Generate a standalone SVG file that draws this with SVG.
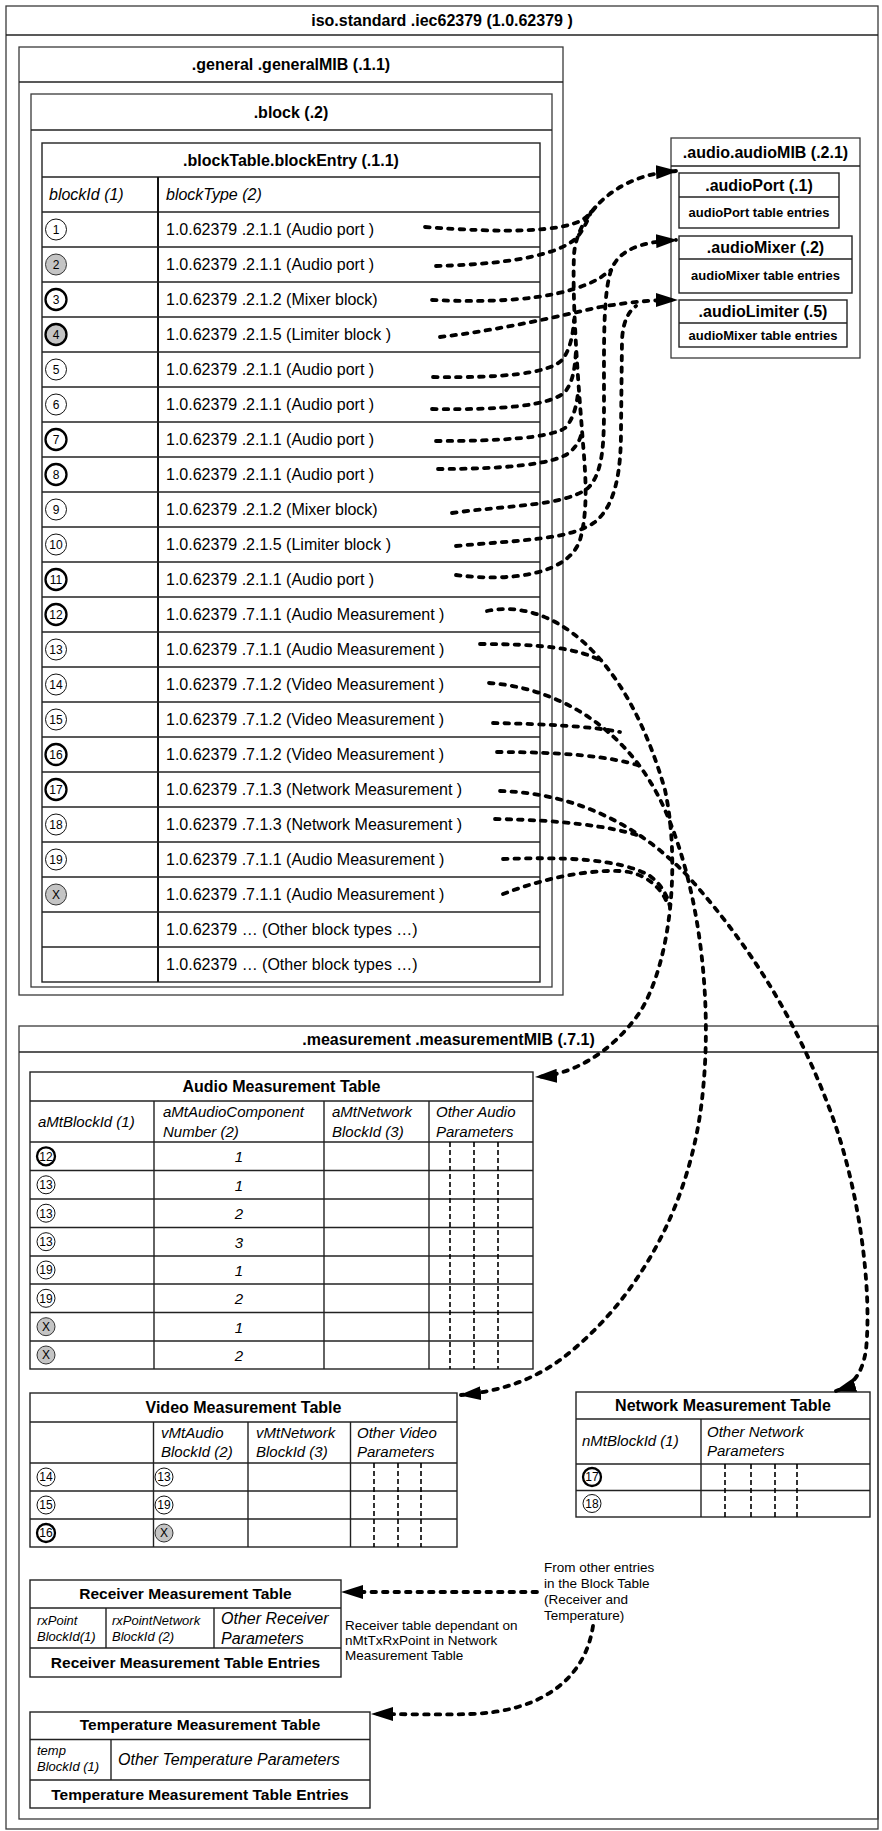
<svg xmlns="http://www.w3.org/2000/svg" width="882" height="1831" viewBox="0 0 882 1831">
<defs>
<style>
.fr{fill:none;stroke:#3a3a3a;stroke-width:1.3}
.tb{fill:#fff;stroke:#222;stroke-width:1.4}
.ln{stroke:#222;stroke-width:1.4;fill:none}
.lnk{stroke:#111;stroke-width:2;fill:none}
.b16{font-family:'Liberation Sans',Arial,sans-serif;font-size:16px;font-weight:bold;fill:#000}
.b15{font-family:'Liberation Sans',Arial,sans-serif;font-size:15.5px;font-weight:bold;fill:#000}
.b13{font-family:'Liberation Sans',Arial,sans-serif;font-size:13px;font-weight:bold;fill:#000}
.r16{font-family:'Liberation Sans',Arial,sans-serif;font-size:16px;fill:#000}
.i16{font-family:'Liberation Sans',Arial,sans-serif;font-size:16px;font-style:italic;fill:#000}
.i15{font-family:'Liberation Sans',Arial,sans-serif;font-size:15px;font-style:italic;fill:#000}
.i13{font-family:'Liberation Sans',Arial,sans-serif;font-size:13px;font-style:italic;fill:#000}
.r13{font-family:'Liberation Sans',Arial,sans-serif;font-size:13.5px;fill:#000}
.n12{font-family:'Liberation Sans',Arial,sans-serif;font-size:12px;fill:#000;text-anchor:middle}
.mid{text-anchor:middle}
.cw{fill:#fff;stroke:#111;stroke-width:1}
.ck{fill:#fff;stroke:#000;stroke-width:2.3}
.cg{fill:#c4c4c4;stroke:#333;stroke-width:1}
.cgk{fill:#c4c4c4;stroke:#000;stroke-width:2.3}
.con{fill:none;stroke:#000;stroke-width:3.8;stroke-dasharray:4.5 7;stroke-linecap:round}
.dv{stroke:#000;stroke-width:1.6;stroke-dasharray:5 3;fill:none}
</style>
<marker id="ah" markerUnits="userSpaceOnUse" markerWidth="24" markerHeight="14" refX="20" refY="7" orient="auto"><path d="M0,0 L22,7 L0,14 z" fill="#000"/></marker>
</defs>

<g id="root-frame">
<rect class="fr" x="6" y="6" width="872" height="1823"/>
<line class="ln" x1="6" y1="35" x2="878" y2="35"/>
<text class="b16 mid" x="442" y="26">iso.standard .iec62379 (1.0.62379 )</text>
</g>

<g id="generalMIB">
<rect class="fr" x="19" y="47" width="544" height="948"/>
<line class="ln" x1="19" y1="82" x2="563" y2="82"/>
<text class="b16 mid" x="291" y="70">.general .generalMIB (.1.1)</text>
</g>

<g id="block">
<rect class="fr" x="31" y="94" width="521" height="893"/>
<line class="ln" x1="31" y1="130" x2="552" y2="130"/>
<text class="b16 mid" x="291" y="118">.block (.2)</text>
</g>

<g id="blockTable">
<rect class="tb" x="42" y="143" width="498" height="839"/>
<line class="ln" x1="42" y1="177" x2="540" y2="177"/>
<line class="ln" x1="42" y1="212" x2="540" y2="212"/>
<line class="lnk" x1="158" y1="177" x2="158" y2="982"/>
<g class="ln">
<line x1="42" y1="247" x2="540" y2="247"/><line x1="42" y1="282" x2="540" y2="282"/><line x1="42" y1="317" x2="540" y2="317"/><line x1="42" y1="352" x2="540" y2="352"/><line x1="42" y1="387" x2="540" y2="387"/><line x1="42" y1="422" x2="540" y2="422"/><line x1="42" y1="457" x2="540" y2="457"/><line x1="42" y1="492" x2="540" y2="492"/><line x1="42" y1="527" x2="540" y2="527"/><line x1="42" y1="562" x2="540" y2="562"/><line x1="42" y1="597" x2="540" y2="597"/><line x1="42" y1="632" x2="540" y2="632"/><line x1="42" y1="667" x2="540" y2="667"/><line x1="42" y1="702" x2="540" y2="702"/><line x1="42" y1="737" x2="540" y2="737"/><line x1="42" y1="772" x2="540" y2="772"/><line x1="42" y1="807" x2="540" y2="807"/><line x1="42" y1="842" x2="540" y2="842"/><line x1="42" y1="877" x2="540" y2="877"/><line x1="42" y1="912" x2="540" y2="912"/><line x1="42" y1="947" x2="540" y2="947"/>
</g>
<text class="b16 mid" x="291" y="166">.blockTable.blockEntry (.1.1)</text>
<text class="i16" x="49" y="200">blockId (1)</text>
<text class="i16" x="166" y="200">blockType (2)</text>
<circle class="cw" cx="56" cy="229.5" r="10.5"/><text class="n12" x="56" y="234">1</text>
<circle class="cg" cx="56" cy="264.5" r="10.5"/><text class="n12" x="56" y="269">2</text>
<circle class="ck" cx="56" cy="299.5" r="10.5"/><text class="n12" x="56" y="304">3</text>
<circle class="cgk" cx="56" cy="334.5" r="10.5"/><text class="n12" x="56" y="339">4</text>
<circle class="cw" cx="56" cy="369.5" r="10.5"/><text class="n12" x="56" y="374">5</text>
<circle class="cw" cx="56" cy="404.5" r="10.5"/><text class="n12" x="56" y="409">6</text>
<circle class="ck" cx="56" cy="439.5" r="10.5"/><text class="n12" x="56" y="444">7</text>
<circle class="ck" cx="56" cy="474.5" r="10.5"/><text class="n12" x="56" y="479">8</text>
<circle class="cw" cx="56" cy="509.5" r="10.5"/><text class="n12" x="56" y="514">9</text>
<circle class="cw" cx="56" cy="544.5" r="10.5"/><text class="n12" x="56" y="549">10</text>
<circle class="ck" cx="56" cy="579.5" r="10.5"/><text class="n12" x="56" y="584">11</text>
<circle class="ck" cx="56" cy="614.5" r="10.5"/><text class="n12" x="56" y="619">12</text>
<circle class="cw" cx="56" cy="649.5" r="10.5"/><text class="n12" x="56" y="654">13</text>
<circle class="cw" cx="56" cy="684.5" r="10.5"/><text class="n12" x="56" y="689">14</text>
<circle class="cw" cx="56" cy="719.5" r="10.5"/><text class="n12" x="56" y="724">15</text>
<circle class="ck" cx="56" cy="754.5" r="10.5"/><text class="n12" x="56" y="759">16</text>
<circle class="ck" cx="56" cy="789.5" r="10.5"/><text class="n12" x="56" y="794">17</text>
<circle class="cw" cx="56" cy="824.5" r="10.5"/><text class="n12" x="56" y="829">18</text>
<circle class="cw" cx="56" cy="859.5" r="10.5"/><text class="n12" x="56" y="864">19</text>
<circle class="cg" cx="56" cy="894.5" r="10.5"/><text class="n12" x="56" y="899">X</text>
<text class="r16" x="166" y="235">1.0.62379 .2.1.1 (Audio port )</text>
<text class="r16" x="166" y="270">1.0.62379 .2.1.1 (Audio port )</text>
<text class="r16" x="166" y="305">1.0.62379 .2.1.2 (Mixer block)</text>
<text class="r16" x="166" y="340">1.0.62379 .2.1.5 (Limiter block )</text>
<text class="r16" x="166" y="375">1.0.62379 .2.1.1 (Audio port )</text>
<text class="r16" x="166" y="410">1.0.62379 .2.1.1 (Audio port )</text>
<text class="r16" x="166" y="445">1.0.62379 .2.1.1 (Audio port )</text>
<text class="r16" x="166" y="480">1.0.62379 .2.1.1 (Audio port )</text>
<text class="r16" x="166" y="515">1.0.62379 .2.1.2 (Mixer block)</text>
<text class="r16" x="166" y="550">1.0.62379 .2.1.5 (Limiter block )</text>
<text class="r16" x="166" y="585">1.0.62379 .2.1.1 (Audio port )</text>
<text class="r16" x="166" y="620">1.0.62379 .7.1.1 (Audio Measurement )</text>
<text class="r16" x="166" y="655">1.0.62379 .7.1.1 (Audio Measurement )</text>
<text class="r16" x="166" y="690">1.0.62379 .7.1.2 (Video Measurement )</text>
<text class="r16" x="166" y="725">1.0.62379 .7.1.2 (Video Measurement )</text>
<text class="r16" x="166" y="760">1.0.62379 .7.1.2 (Video Measurement )</text>
<text class="r16" x="166" y="795">1.0.62379 .7.1.3 (Network Measurement )</text>
<text class="r16" x="166" y="830">1.0.62379 .7.1.3 (Network Measurement )</text>
<text class="r16" x="166" y="865">1.0.62379 .7.1.1 (Audio Measurement )</text>
<text class="r16" x="166" y="900">1.0.62379 .7.1.1 (Audio Measurement )</text>
<text class="r16" x="166" y="935">1.0.62379 … (Other block types …)</text>
<text class="r16" x="166" y="970">1.0.62379 … (Other block types …)</text>
</g>

<g id="audioMIB">
<rect class="fr" x="671" y="138" width="189" height="220"/>
<line class="ln" x1="671" y1="166" x2="860" y2="166"/>
<text class="b16 mid" x="765.5" y="158">.audio.audioMIB (.2.1)</text>
</g>
<g id="audioPort">
<rect class="tb" x="679" y="173" width="160" height="55"/>
<line class="ln" x1="679" y1="197" x2="839" y2="197"/>
<text class="b16 mid" x="759" y="191">.audioPort (.1)</text>
<text class="b13 mid" x="759" y="217">audioPort table entries</text>
</g>
<g id="audioMixer">
<rect class="tb" x="679" y="236" width="173" height="57"/>
<line class="ln" x1="679" y1="259" x2="852" y2="259"/>
<text class="b16 mid" x="765.5" y="253">.audioMixer (.2)</text>
<text class="b13 mid" x="765.5" y="280">audioMixer table entries</text>
</g>
<g id="audioLimiter">
<rect class="tb" x="679" y="300" width="168" height="47"/>
<line class="ln" x1="679" y1="323" x2="847" y2="323"/>
<text class="b16 mid" x="763" y="317">.audioLimiter (.5)</text>
<text class="b13 mid" x="763" y="340">audioMixer table entries</text>
</g>

<g id="measurementMIB">
<rect class="fr" x="19" y="1026" width="859" height="793"/>
<line class="ln" x1="19" y1="1052" x2="878" y2="1052"/>
<text class="b16 mid" x="448.5" y="1045">.measurement .measurementMIB (.7.1)</text>
</g>

<g id="audioMeasurementTable">
<rect class="tb" x="30" y="1072" width="503" height="297"/>
<line class="ln" x1="30" y1="1101" x2="533" y2="1101"/>
<line class="ln" x1="30" y1="1142" x2="533" y2="1142"/>
<g class="ln">
<line x1="30" y1="1170.5" x2="533" y2="1170.5"/><line x1="30" y1="1199" x2="533" y2="1199"/><line x1="30" y1="1227.5" x2="533" y2="1227.5"/><line x1="30" y1="1256" x2="533" y2="1256"/><line x1="30" y1="1284" x2="533" y2="1284"/><line x1="30" y1="1312.5" x2="533" y2="1312.5"/><line x1="30" y1="1341" x2="533" y2="1341"/>
<line x1="154" y1="1101" x2="154" y2="1369"/><line x1="324" y1="1101" x2="324" y2="1369"/><line x1="429" y1="1101" x2="429" y2="1369"/>
</g>
<line class="dv" x1="450" y1="1142" x2="450" y2="1369"/><line class="dv" x1="474" y1="1142" x2="474" y2="1369"/><line class="dv" x1="498" y1="1142" x2="498" y2="1369"/>
<text class="b16 mid" x="281.5" y="1092">Audio Measurement Table</text>
<text class="i15" x="38" y="1127">aMtBlockId (1)</text>
<text class="i15" x="163" y="1117">aMtAudioComponent</text><text class="i15" x="163" y="1137">Number (2)</text>
<text class="i15" x="332" y="1117">aMtNetwork</text><text class="i15" x="332" y="1137">BlockId (3)</text>
<text class="i15" x="436" y="1117">Other Audio</text><text class="i15" x="436" y="1137">Parameters</text>
<circle class="ck" cx="46" cy="1156.3" r="9"/><text class="n12" x="46" y="1160.5">12</text>
<circle class="cw" cx="46" cy="1184.8" r="9"/><text class="n12" x="46" y="1189">13</text>
<circle class="cw" cx="46" cy="1213.2" r="9"/><text class="n12" x="46" y="1217.5">13</text>
<circle class="cw" cx="46" cy="1241.7" r="9"/><text class="n12" x="46" y="1246">13</text>
<circle class="cw" cx="46" cy="1270" r="9"/><text class="n12" x="46" y="1274.3">19</text>
<circle class="cw" cx="46" cy="1298.3" r="9"/><text class="n12" x="46" y="1302.5">19</text>
<circle class="cg" cx="46" cy="1326.7" r="9"/><text class="n12" x="46" y="1331">X</text>
<circle class="cg" cx="46" cy="1355" r="9"/><text class="n12" x="46" y="1359.3">X</text>
<text class="i15 mid" x="239" y="1162">1</text>
<text class="i15 mid" x="239" y="1190.5">1</text>
<text class="i15 mid" x="239" y="1219">2</text>
<text class="i15 mid" x="239" y="1247.5">3</text>
<text class="i15 mid" x="239" y="1275.5">1</text>
<text class="i15 mid" x="239" y="1304">2</text>
<text class="i15 mid" x="239" y="1332.5">1</text>
<text class="i15 mid" x="239" y="1361">2</text>
</g>

<g id="videoMeasurementTable">
<rect class="tb" x="30" y="1393" width="427" height="154"/>
<line class="ln" x1="30" y1="1422" x2="457" y2="1422"/>
<line class="ln" x1="30" y1="1463" x2="457" y2="1463"/>
<g class="ln">
<line x1="30" y1="1491" x2="457" y2="1491"/><line x1="30" y1="1519" x2="457" y2="1519"/>
<line x1="153.5" y1="1422" x2="153.5" y2="1547"/><line x1="248" y1="1422" x2="248" y2="1547"/><line x1="350.5" y1="1422" x2="350.5" y2="1547"/>
</g>
<line class="dv" x1="374" y1="1463" x2="374" y2="1547"/><line class="dv" x1="398" y1="1463" x2="398" y2="1547"/><line class="dv" x1="421" y1="1463" x2="421" y2="1547"/>
<text class="b16 mid" x="243.5" y="1413">Video Measurement Table</text>
<text class="i15" x="161" y="1438">vMtAudio</text><text class="i15" x="161" y="1457">BlockId (2)</text>
<text class="i15" x="256" y="1438">vMtNetwork</text><text class="i15" x="256" y="1457">BlockId (3)</text>
<text class="i15" x="357" y="1438">Other Video</text><text class="i15" x="357" y="1457">Parameters</text>
<circle class="cw" cx="46" cy="1477" r="9"/><text class="n12" x="46" y="1481.3">14</text>
<circle class="cw" cx="46" cy="1505" r="9"/><text class="n12" x="46" y="1509.3">15</text>
<circle class="ck" cx="46" cy="1533" r="9"/><text class="n12" x="46" y="1537.3">16</text>
<circle class="cw" cx="164" cy="1477" r="9"/><text class="n12" x="164" y="1481.3">13</text>
<circle class="cw" cx="164" cy="1505" r="9"/><text class="n12" x="164" y="1509.3">19</text>
<circle class="cg" cx="164" cy="1533" r="9"/><text class="n12" x="164" y="1537.3">X</text>
</g>

<g id="networkMeasurementTable">
<rect class="tb" x="576" y="1392" width="294" height="125"/>
<line class="ln" x1="576" y1="1419" x2="870" y2="1419"/>
<line class="ln" x1="576" y1="1464" x2="870" y2="1464"/>
<line class="ln" x1="576" y1="1490.5" x2="870" y2="1490.5"/>
<line class="ln" x1="701" y1="1419" x2="701" y2="1517"/>
<line class="dv" x1="725" y1="1464" x2="725" y2="1517"/><line class="dv" x1="751" y1="1464" x2="751" y2="1517"/><line class="dv" x1="775" y1="1464" x2="775" y2="1517"/><line class="dv" x1="797" y1="1464" x2="797" y2="1517"/>
<text class="b16 mid" x="723" y="1411">Network Measurement Table</text>
<text class="i15" x="582" y="1446">nMtBlockId (1)</text>
<text class="i15" x="707" y="1437">Other Network</text><text class="i15" x="707" y="1456">Parameters</text>
<circle class="ck" cx="592" cy="1477" r="9"/><text class="n12" x="592" y="1481.3">17</text>
<circle class="cw" cx="592" cy="1503.5" r="9"/><text class="n12" x="592" y="1507.8">18</text>
</g>

<g id="receiverMeasurementTable">
<rect class="tb" x="30" y="1580" width="311" height="97"/>
<line class="ln" x1="30" y1="1608" x2="341" y2="1608"/>
<line class="ln" x1="30" y1="1648" x2="341" y2="1648"/>
<line class="ln" x1="106" y1="1608" x2="106" y2="1648"/>
<line class="ln" x1="214" y1="1608" x2="214" y2="1648"/>
<text class="b15 mid" x="185.5" y="1599">Receiver Measurement Table</text>
<text class="i13" x="37" y="1625">rxPoint</text><text class="i13" x="37" y="1641">BlockId(1)</text>
<text class="i13" x="112" y="1625">rxPointNetwork</text><text class="i13" x="112" y="1641">BlockId (2)</text>
<text class="i16" x="221" y="1624">Other Receiver</text><text class="i16" x="221" y="1644">Parameters</text>
<text class="b15 mid" x="185.5" y="1668">Receiver Measurement Table Entries</text>
</g>

<g id="temperatureMeasurementTable">
<rect class="tb" x="30" y="1712" width="340" height="96"/>
<line class="ln" x1="30" y1="1739.5" x2="370" y2="1739.5"/>
<line class="ln" x1="30" y1="1780" x2="370" y2="1780"/>
<line class="ln" x1="111" y1="1739.5" x2="111" y2="1780"/>
<text class="b15 mid" x="200" y="1730">Temperature Measurement Table</text>
<text class="i13" x="37" y="1755">temp</text><text class="i13" x="37" y="1771">BlockId (1)</text>
<text class="i16" x="118" y="1765">Other Temperature Parameters</text>
<text class="b15 mid" x="200" y="1800">Temperature Measurement Table Entries</text>
</g>

<g id="notes">
<text class="r13" x="345" y="1629.5">Receiver table dependant on</text>
<text class="r13" x="345" y="1644.5">nMtTxRxPoint in Network</text>
<text class="r13" x="345" y="1659.5">Measurement Table</text>
<text class="r13" x="544" y="1571.5">From other entries</text>
<text class="r13" x="544" y="1587.5">in the Block Table</text>
<text class="r13" x="544" y="1603.5">(Receiver and</text>
<text class="r13" x="544" y="1619.5">Temperature)</text>
</g>

<g id="connectors">
<path class="con" marker-end="url(#ah)" d="M456,575 C510,582 568,575 580,540 C590,505 584,460 582,430 C578,380 572,300 574,255 C576,220 610,175 676,171"/>
<path class="con" d="M438,469 C500,469 555,465 570,452 C578,445 581,438 582,430"/>
<path class="con" d="M436,441 C500,441 550,438 565,428 C573,420 577,405 578,392"/>
<path class="con" d="M432,409 C500,410 550,406 565,392 C573,382 575,368 576,350"/>
<path class="con" d="M433,377 C500,378 548,374 562,360 C570,350 573,335 574,320"/>
<path class="con" d="M436,266 C520,264 565,252 578,236 C583,230 587,222 591,212"/>
<path class="con" d="M425,227 C505,233 560,232 582,220 C588,216 593,211 597,205"/>
<path class="con" marker-end="url(#ah)" d="M452,513 C510,505 565,506 588,488 C604,472 604,440 604,400 C604,340 603,290 612,268 C620,250 640,242 676,240"/>
<path class="con" d="M432,300 C520,304 570,295 600,278 C604,275 608,272 611,270"/>
<path class="con" marker-end="url(#ah)" d="M440,337 C500,330 560,316 600,307 C630,302 650,300 676,300"/>
<path class="con" d="M456,546 C520,540 570,540 595,522 C616,505 621,470 621,430 L622,340 C623,322 628,312 636,306"/>
<path class="con" marker-end="url(#ah)" d="M487,611 C550,598 625,650 665,790 C680,860 672,960 640,1012 C610,1055 570,1075 537,1077"/>
<path class="con" d="M480,644 C540,644 580,648 603,662"/>
<path class="con" d="M503,859 C560,857 620,858 650,876 C662,885 668,897 670,907"/>
<path class="con" d="M503,894 C540,880 580,870 620,871 C645,872 662,888 668,905"/>
<path class="con" marker-end="url(#ah)" d="M489,683 C560,688 630,730 665,810 C700,890 712,1000 703,1090 C693,1200 640,1300 560,1360 C530,1382 495,1392 461,1395"/>
<path class="con" d="M493,723 C540,724 590,726 620,732"/>
<path class="con" d="M497,752 C560,752 610,756 640,766"/>
<path class="con" marker-end="url(#ah)" d="M500,791 C580,793 650,830 700,890 C760,960 800,1030 830,1110 C860,1190 872,1290 866,1350 C862,1375 852,1386 836,1391"/>
<path class="con" d="M495,819 C560,820 610,826 640,836"/>
<path class="con" marker-end="url(#ah)" d="M537,1592 L343,1592"/>
<path class="con" marker-end="url(#ah)" d="M593,1626 C585,1680 540,1712 470,1714 C440,1715 400,1714 373,1714"/>
</g>
</svg>
